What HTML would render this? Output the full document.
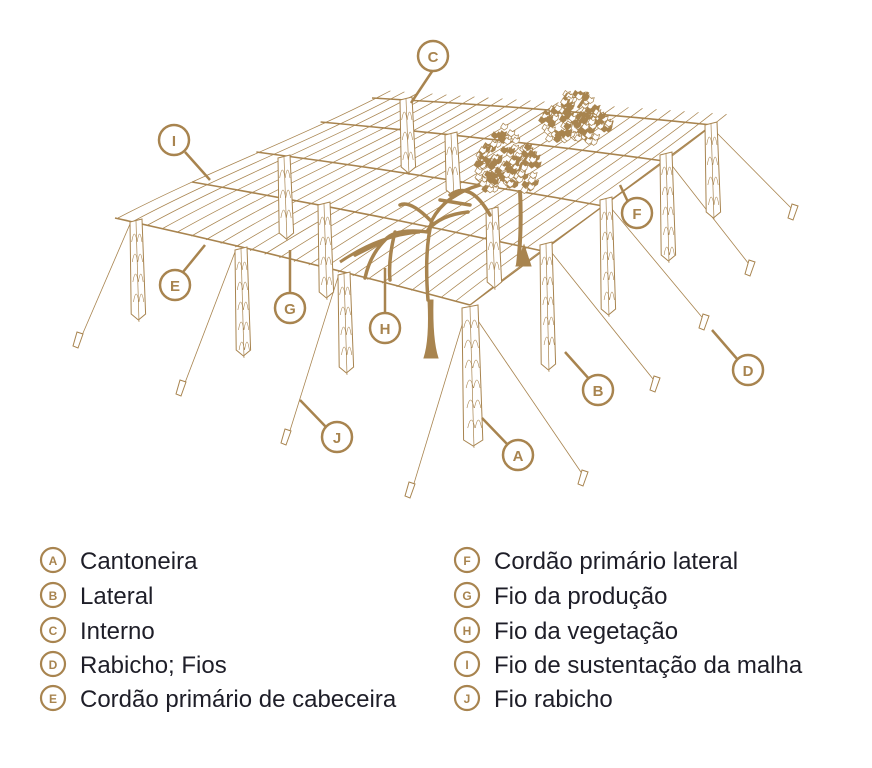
<!DOCTYPE html>
<html><head><meta charset="utf-8"><style>
html,body{margin:0;padding:0;background:#fff;width:872px;height:768px;overflow:hidden}
svg{display:block}
</style></head><body>
<svg id="s" width="872" height="768" viewBox="0 0 872 768" xmlns="http://www.w3.org/2000/svg">
<g id="draw" fill="none" stroke="#a8844f" stroke-width="1"></g>
<g id="lab"></g>
<g font-family="Liberation Sans, sans-serif" font-size="24" fill="#1e1e28">
<text x="80" y="569">Cantoneira</text>
<text x="80" y="604">Lateral</text>
<text x="80" y="639">Interno</text>
<text x="80" y="673">Rabicho; Fios</text>
<text x="80" y="707">Cordão primário de cabeceira</text>
<text x="494" y="569">Cordão primário lateral</text>
<text x="494" y="604">Fio da produção</text>
<text x="494" y="639">Fio da vegetação</text>
<text x="494" y="673">Fio de sustentação da malha</text>
<text x="494" y="707">Fio rabicho</text>
</g>
</svg>
<script>
var C='#a8844f',g=document.getElementById('draw'),L=document.getElementById('lab');
var seed=7;function rnd(){seed=(seed*16807)%2147483647;return seed/2147483647}
function el(p,t,a){var e=document.createElementNS('http://www.w3.org/2000/svg',t);for(var k in a)e.setAttribute(k,a[k]);p.appendChild(e);return e}
function ln(x1,y1,x2,y2,w){el(g,'line',{x1:x1,y1:y1,x2:x2,y2:y2,'stroke-width':w||1})}
function lerp(a,b,t){return [a[0]+(b[0]-a[0])*t,a[1]+(b[1]-a[1])*t]}
var FL=[118,218],FR=[470,305],BL=[375,98],BR=[712,125];
// hatching
for(var i=0;i<=24;i++){var s=i/24;var f=lerp(FL,FR,s),b=lerp(BL,BR,s);
 var bx=b[0]+(b[0]-f[0])*0.06,by=b[1]+(b[1]-f[1])*0.06;
 el(g,'path',{d:'M'+f[0]+' '+f[1]+' C'+(f[0]+(bx-f[0])*0.33)+' '+(f[1]+(by-f[1])*0.33-5)+' '+(f[0]+(bx-f[0])*0.66)+' '+(f[1]+(by-f[1])*0.66+5)+' '+bx+' '+by,'stroke-width':0.75});}
// rows
[0,0.3,0.55,0.8,1].forEach(function(t){var a=lerp(FL,BL,t),b=lerp(FR,BR,t);
 el(g,'path',{d:'M'+(a[0]-3)+' '+a[1]+' Q'+((a[0]+b[0])/2)+' '+((a[1]+b[1])/2-4)+' '+b[0]+' '+b[1],'stroke-width':1.6});});
el(g,'path',{d:'M470 305 L712 125','stroke-width':1.4});
// posts
function post(x,y,h,w){w=w||12;el(g,'path',{d:'M'+x+' '+y+' l'+w+' -3 l'+(w*0.3)+' '+h+' l-'+(w*0.6)+' 6 l-'+(w*0.6)+' -6 Z',fill:'#fff','stroke-width':1});
 el(g,'line',{x1:x+w*0.5,y1:y-1,x2:x+w*0.45+w*0.3,y2:y+h+5,'stroke-width':0.7});
 for(var k=6;k<h-16;k+=20){el(g,'path',{d:'M'+(x+1.5+k*0.003*w*10/12)+' '+(y+k+14)+' q'+(w*0.22)+' -16 '+(w*0.45)+' 0 M'+(x+w*0.5+1+k*0.0025*w)+' '+(y+k+14)+' q'+(w*0.2)+' -16 '+(w*0.4)+' 0','stroke-width':0.6})}}
var posts=[[130,222,95],[235,250,103],[338,275,95],[278,158,78],[318,205,90],[400,100,70],[445,135,58],[486,210,75],[600,200,112],[660,155,103],[705,125,90],[540,245,122],[462,308,135,16]];
[[130,224,80,340],[235,252,183,388],[338,277,288,437],[466,312,412,490],[472,312,585,478],[548,248,657,384],[606,202,706,322],[666,158,752,268],[712,128,795,212]].forEach(function(w){ln(w[0],w[1],w[2],w[3],0.8);
 el(g,'path',{d:'M'+(w[2]-3)+' '+(w[3]-8)+' l6 2 l-5 14 l-5 -2 Z',fill:'#fff','stroke-width':1});});
posts.forEach(function(p){post(p[0],p[1],p[2],p[3])});
// vines
el(g,'path',{d:'M428 300 Q424 250 432 220 Q445 195 480 185 M430 220 Q410 200 400 205 M428 232 Q395 228 385 240 L355 255 M395 232 Q388 260 390 280 M385 240 Q370 255 365 278 M428 230 Q440 215 468 212 M440 200 L470 205 M450 195 Q470 180 490 215',fill:'none','stroke-width':3.5,'stroke-linecap':'round'});
el(g,'path',{d:'M424 358 Q430 340 428 300 L433 300 Q432 340 438 358 Z',fill:C,'stroke-width':1});
el(g,'path',{d:'M518 265 Q522 230 520 190',fill:'none','stroke-width':4});
el(g,'path',{d:'M516 266 L531 266 L524 245 Z',fill:C,'stroke-width':1});
el(g,'path',{d:'M340 262 Q380 235 420 232',fill:'none','stroke-width':3});
function foli(cx,cy,rx,ry,n){for(var i=0;i<n;i++){var a=rnd()*6.28,r=Math.sqrt(rnd());var x=cx+Math.cos(a)*rx*r,y=cy+Math.sin(a)*ry*r*(1+0.3*Math.sin(a*3));
 el(g,'path',{d:'M'+x.toFixed(1)+' '+y.toFixed(1)+' l2.5 -4 l2.5 2 l2.5 -1 l-1 4 l-3 2 Z',fill:rnd()<0.5?C:'#fff','stroke-width':0.7});}}
foli(503,165,32,30,140);foli(572,122,34,24,140);
el(g,'path',{d:'M578 108 Q585 98 588 92',fill:'none','stroke-width':3});
function lab(ch,x,y,x2,y2,x3,y3){el(L,'line',{x1:x2,y1:y2,x2:x3,y2:y3,stroke:C,'stroke-width':2.5});
 el(L,'circle',{cx:x,cy:y,r:15,fill:'#fff',stroke:C,'stroke-width':2.5});
 var t=el(L,'text',{x:x,y:y+6,'text-anchor':'middle','font-family':'Liberation Sans, sans-serif','font-size':15,'font-weight':'bold',fill:C});t.textContent=ch;}
lab('C',433,56,433,70,411,103);lab('I',174,140,185,152,210,180);lab('F',637,213,628,202,620,185);
lab('E',175,285,183,272,205,245);lab('G',290,308,290,292,290,250);lab('H',385,328,385,313,385,268);
lab('D',748,370,738,360,712,330);lab('B',598,390,590,380,565,352);lab('A',518,455,508,445,482,418);lab('J',337,437,326,427,300,400);
[['A',560],['B',595],['C',630],['D',664],['E',698]].forEach(function(a){el(L,'circle',{cx:53,cy:a[1],r:12,fill:'#fff',stroke:C,'stroke-width':2.2});var t=el(L,'text',{x:53,y:a[1]+5,'text-anchor':'middle','font-family':'Liberation Sans, sans-serif','font-size':12,'font-weight':'bold',fill:C});t.textContent=a[0];});
[['F',560],['G',595],['H',630],['I',664],['J',698]].forEach(function(a){el(L,'circle',{cx:467,cy:a[1],r:12,fill:'#fff',stroke:C,'stroke-width':2.2});var t=el(L,'text',{x:467,y:a[1]+5,'text-anchor':'middle','font-family':'Liberation Sans, sans-serif','font-size':12,'font-weight':'bold',fill:C});t.textContent=a[0];});
</script>
</body></html>
